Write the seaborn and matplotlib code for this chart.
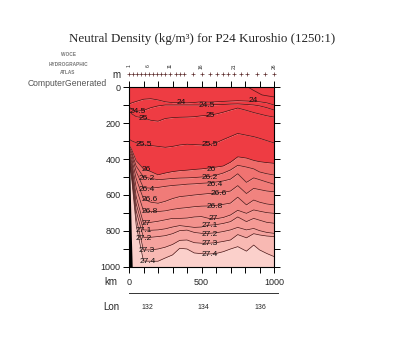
import numpy as np
import pandas as pd
import matplotlib
matplotlib.use("Agg")
import matplotlib.pyplot as plt
import seaborn as sns

# ---------------- data ----------------
km_grid = [0, 20, 50, 100, 150, 200, 250, 300, 350, 400, 450, 500, 550, 600,
           650, 700, 750, 810, 860, 900, 950, 1000]

level_names = ["24", "24.5", "25", "25.5", "26", "26.2", "26.4", "26.6",
               "26.8", "27", "27.1", "27.2", "27.3", "27.4"]

d_240 = [95, 88, 80, 68, 65, 72, 82, 87, 87, 88, 86, 82, 84, 82, 80, 78, 76, 78, 80, 82, 88, 100]
d_245 = [110, 125, 135, 130, 115, 105, 100, 100, 100, 100, 100, 100, 100, 98, 97, 95, 94, 97, 100, 105, 115, 128]
d_250 = [130, 150, 165, 172, 185, 190, 175, 170, 168, 167, 165, 160, 157, 150, 140, 128, 117, 130, 142, 150, 160, 167]
d_255 = [290, 300, 310, 322, 325, 330, 335, 330, 322, 318, 320, 322, 322, 310, 292, 275, 258, 268, 276, 285, 298, 311]
d_260 = [320, 350, 410, 455, 470, 488, 478, 470, 465, 462, 458, 455, 450, 445, 439, 418, 388, 395, 408, 415, 420, 424]
d_262 = [330, 365, 440, 500, 508, 515, 512, 508, 506, 505, 503, 500, 498, 490, 478, 461, 435, 445, 455, 472, 482, 489]
d_264 = [340, 380, 470, 560, 562, 558, 552, 547, 544, 540, 538, 535, 533, 528, 522, 512, 482, 530, 505, 515, 528, 540]
d_266 = [350, 400, 510, 622, 640, 646, 635, 620, 609, 605, 600, 596, 592, 590, 585, 578, 548, 592, 563, 570, 578, 582]
d_268 = [360, 420, 560, 688, 692, 692, 688, 680, 674, 670, 665, 662, 661, 658, 652, 645, 612, 655, 628, 640, 650, 655]
d_270 = [370, 440, 610, 757, 752, 746, 738, 730, 730, 728, 722, 720, 730, 732, 725, 711, 685, 702, 683, 690, 698, 702]
d_271 = [380, 460, 650, 794, 796, 794, 788, 778, 770, 775, 780, 778, 768, 765, 758, 748, 722, 748, 730, 740, 752, 757]
d_272 = [390, 480, 690, 835, 835, 831, 826, 815, 798, 795, 808, 813, 813, 810, 803, 794, 780, 794, 786, 798, 808, 813]
d_273 = [400, 500, 730, 906, 905, 900, 890, 875, 852, 850, 865, 868, 868, 865, 858, 850, 820, 838, 815, 822, 828, 831]
d_274 = [410, 520, 770, 967, 968, 968, 950, 933, 896, 900, 922, 926, 928, 925, 915, 900, 887, 912, 878, 905, 925, 942]

# shallow outcropping isopycnal at the eastern end
top_km = [820, 855, 917, 960, 1000]
top_depth = [0, 17, 44, 50, 55]

# sea floor (coastal slope at station 1)
floor_km = [0, 2, 8, 15, 22]
floor_depth = [250, 350, 550, 800, 1000]

station_km = [0, 28, 55, 83, 108, 136, 166, 194, 224, 251, 281, 323, 350, 378,
              438, 500, 558, 608, 650, 684, 726, 772, 816, 880, 938, 1000]
station_labels = {1: "1", 6: "6", 11: "11", 16: "16", 21: "21", 26: "26"}

lon_ticks = [132, 133, 134, 135, 136]
lon_labels = ["132", "", "134", "", "136"]

# contour labels: (text, km, depth)
contour_labels = [
    ("24.5", 64, 137), ("25", 99, 174), ("25.5", 99, 322), ("26", 122, 457),
    ("26.2", 122, 507), ("26.4", 122, 567), ("26.6", 140, 624), ("26.8", 145, 689),
    ("27", 118, 757), ("27.1", 100, 798), ("27.2", 99, 840), ("27.3", 122, 906),
    ("27.4", 126, 967),
    ("24", 363, 87), ("24.5", 536, 100), ("24", 857, 76), ("25", 559, 156),
    ("25.5", 559, 322), ("26", 570, 457), ("26.2", 554, 504), ("26.4", 593, 539),
    ("26.6", 616, 591), ("26.8", 593, 665), ("27", 582, 730), ("27.1", 559, 772),
    ("27.2", 559, 817), ("27.3", 559, 869), ("27.4", 559, 928),
]

depths = [d_240, d_245, d_250, d_255, d_260, d_262, d_264, d_266, d_268,
          d_270, d_271, d_272, d_273, d_274]

band_colors = ["#ee3c43", "#ee3c43", "#ee3c43", "#ee3c43", "#ee3c43",
               "#ef6a68", "#f07371", "#f07b78", "#f1837f", "#f28a86",
               "#f3928d", "#f49a95", "#f5a39e", "#f8b9b3", "#fbd0cb"]

# ---------------- figure ----------------
sns.set_style("white")
plt.rcParams['font.family'] = ['Liberation Sans', 'DejaVu Sans']

fig = plt.figure(figsize=(4.0, 3.5), dpi=100)
W, H = 400, 350
ax = fig.add_axes([129 / W, 1 - 267 / H, 145 / W, 180 / H])

x = np.array(km_grid, dtype=float)
prev = np.zeros_like(x)
for i, d in enumerate(depths):
    d = np.array(d, dtype=float)
    ax.fill_between(x, prev, d, color=band_colors[i], lw=0, zorder=1)
    prev = d
ax.fill_between(x, prev, np.full_like(x, 1000.0), color=band_colors[-1], lw=0, zorder=1)

line_color = "#4a1616"
rows = []
for name, d in zip(level_names, depths):
    for k, dd in zip(km_grid, d):
        rows.append({"km": k, "depth": dd, "level": name})
df = pd.DataFrame(rows)
sns.lineplot(data=df, x="km", y="depth", units="level", estimator=None,
             sort=False, color=line_color, lw=0.5, ax=ax, zorder=2)
sns.lineplot(x=top_km, y=top_depth, color=line_color, lw=0.5, ax=ax,
             estimator=None, sort=False, zorder=2)

# sea floor
ax.fill_betweenx(floor_depth, 0, floor_km, color="black", lw=0, zorder=3)

for txt, k, dep in contour_labels:
    ax.text(k, dep, txt, fontsize=6.0, ha="center", va="center", color="#111111",
            zorder=4)

ax.set_xlim(0, 1000)
ax.set_ylim(1000, 0)
ax.set_xlabel("")
ax.set_ylabel("")
ax.set_xticks([0, 500, 1000])
ax.set_xticklabels(["0", "500", "1000"])
ax.set_xticks(range(0, 1001, 100), minor=True)
ax.set_yticks(range(0, 1001, 200))
ax.set_yticks(range(0, 1001, 100), minor=True)
ax.tick_params(which="both", direction="out", length=4, width=0.7, color="black",
               top=True, right=True, bottom=True, left=True, labelsize=6.5)
ax.tick_params(axis="x", which="major", pad=4)
ax.tick_params(axis="y", which="major", pad=2)
for s in ax.spines.values():
    s.set_linewidth(0.8)
    s.set_color("black")

# station markers
ax.scatter(station_km, [-72] * len(station_km), marker="+", s=12, lw=0.5,
           color="#5a2a2a", clip_on=False, zorder=5)
for idx, lab in station_labels.items():
    ax.text(station_km[idx - 1], -118, lab, rotation=90, fontsize=3.6,
            ha="center", va="center", clip_on=False)

# lon axis
ax_lon = fig.add_axes([129 / W, 1 - 293 / H, 149 / W, 0.0001])
ax_lon.set_xlim(131.36, 136.64)
ax_lon.set_yticks([])
for side in ["top", "left", "right"]:
    ax_lon.spines[side].set_visible(False)
ax_lon.spines["bottom"].set_linewidth(0.7)
ax_lon.spines["bottom"].set_color("#333333")
ax_lon.set_xticks(lon_ticks)
ax_lon.set_xticklabels(lon_labels)
ax_lon.tick_params(axis="x", direction="inout", length=6, width=0.6,
                   labelsize=5, pad=5, color="#333333")
ax_lon.set_facecolor("none")

# texts
fig.text(202 / W, 1 - 39 / H, "Neutral Density (kg/m³) for P24 Kuroshio (1250:1)",
         ha="center", va="center", fontsize=9.4, family="Liberation Serif")
fig.text(67 / W, 1 - 83 / H, "ComputerGenerated", ha="center", va="center",
         fontsize=6.2, color="#555555")
for yy, t in [(55, "WOCE"), (64, "HYDROGRAPHIC"), (72, "ATLAS")]:
    fig.text(68 / W, 1 - yy / H, t, ha="center", va="center", fontsize=3.4,
             color="#777777", weight="bold")
fig.text(116 / W, 1 - 75 / H, "m", ha="center", va="center", fontsize=7)
fig.text(111 / W, 1 - 282 / H, "km", ha="center", va="center", fontsize=7)
fig.text(111 / W, 1 - 307 / H, "Lon", ha="center", va="center", fontsize=7)

fig.savefig("out.png", dpi=100)
